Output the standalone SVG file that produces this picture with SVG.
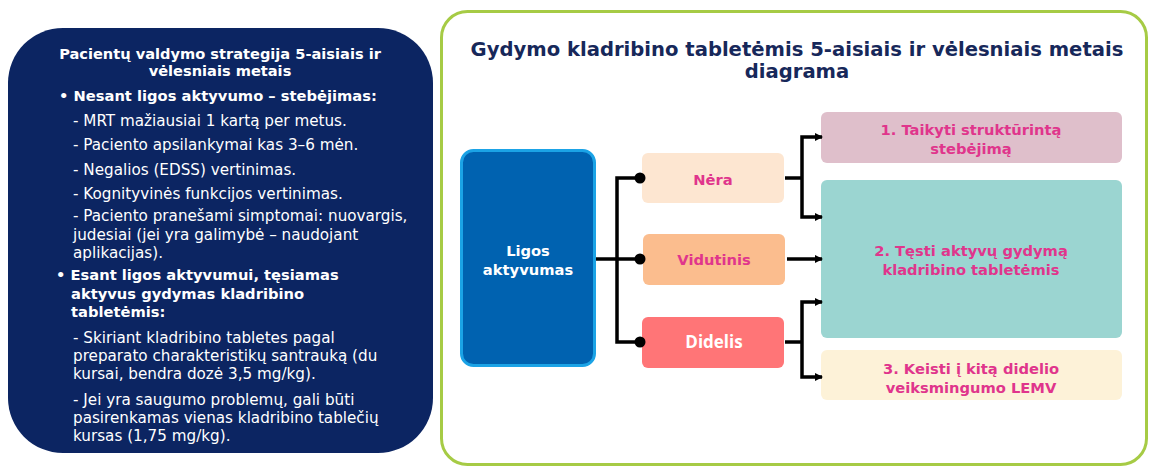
<svg xmlns="http://www.w3.org/2000/svg" width="1150" height="466" viewBox="0 0 1150 466">
<defs>
<style>
.lt{font-family:"DejaVu Sans",Verdana,sans-serif;fill:#ffffff;font-size:15.2px}
.lb{font-family:"DejaVu Sans",Verdana,sans-serif;fill:#ffffff;font-weight:bold;font-size:14.7px}
.lh{font-family:"DejaVu Sans",Verdana,sans-serif;fill:#ffffff;font-weight:bold;font-size:14.6px}
.nt{font-family:"DejaVu Sans",Verdana,sans-serif;font-weight:bold;font-size:14.7px;fill:#e0358c;text-anchor:middle}
.ttl{font-family:"DejaVu Sans",Verdana,sans-serif;font-weight:bold;font-size:19.6px;fill:#17285a;text-anchor:middle}
.cn{fill:none;stroke:#000;stroke-width:3.5}
</style>
<marker id="ah" markerWidth="8" markerHeight="8" refX="7" refY="4" orient="auto" markerUnits="userSpaceOnUse" viewBox="0 0 8 8">
<path d="M0,0 L8,4 L0,8 z" fill="#000"/>
</marker>
</defs>
<rect x="0" y="0" width="1150" height="466" fill="#ffffff"/>

<g id="left-panel">
<rect x="8" y="28" width="425" height="425" rx="55" fill="#0c2562"/>
<text class="lh" text-anchor="middle" x="220" y="59">Pacientų valdymo strategija 5-aisiais ir</text>
<text class="lh" text-anchor="middle" x="220" y="76">vėlesniais metais</text>
<text class="lb" x="59" y="101">• Nesant ligos aktyvumo – stebėjimas:</text>
<text class="lt" x="73" y="126">- MRT mažiausiai 1 kartą per metus.</text>
<text class="lt" x="73" y="150">- Paciento apsilankymai kas 3–6 mėn.</text>
<text class="lt" x="73" y="175">- Negalios (EDSS) vertinimas.</text>
<text class="lt" x="73" y="199">- Kognityvinės funkcijos vertinimas.</text>
<text class="lt" x="73" y="221">- Paciento pranešami simptomai: nuovargis,</text>
<text class="lt" x="73" y="240">judesiai (jei yra galimybė – naudojant</text>
<text class="lt" x="73" y="258">aplikacijas).</text>
<text class="lb" x="56" y="280">• Esant ligos aktyvumui, tęsiamas</text>
<text class="lb" x="71" y="299">aktyvus gydymas kladribino</text>
<text class="lb" x="71" y="317">tabletėmis:</text>
<text class="lt" x="73" y="343">- Skiriant kladribino tabletes pagal</text>
<text class="lt" x="73" y="361">preparato charakteristikų santrauką (du</text>
<text class="lt" x="73" y="379">kursai, bendra dozė 3,5 mg/kg).</text>
<text class="lt" x="73" y="405">- Jei yra saugumo problemų, gali būti</text>
<text class="lt" x="73" y="423">pasirenkamas vienas kladribino tablečių</text>
<text class="lt" x="73" y="441">kursas (1,75 mg/kg).</text>
</g>

<g id="right-panel">
<rect x="441.5" y="11.5" width="705" height="453" rx="26" fill="#ffffff" stroke="#a6cb45" stroke-width="3"/>
<text class="ttl" x="797" y="56">Gydymo kladribino tabletėmis 5-aisiais ir vėlesniais metais</text>
<text class="ttl" x="797" y="78">diagrama</text>
</g>

<g id="node-ligos">
<rect x="461.5" y="150.5" width="133" height="215" rx="12" fill="#0062b0" stroke="#1ba3e6" stroke-width="3"/>
<text class="nt" x="528" y="256" style="fill:#ffffff">Ligos</text>
<text class="nt" x="528" y="275" style="fill:#ffffff">aktyvumas</text>
</g>

<g id="node-nera">
<rect x="642" y="153" width="142" height="50" rx="6" fill="#fde6d1"/>
<text class="nt" x="713" y="185">Nėra</text>
</g>
<g id="node-vidutinis">
<rect x="643" y="234" width="142" height="51" rx="6" fill="#fbbd8e"/>
<text class="nt" x="714" y="265">Vidutinis</text>
</g>
<g id="node-didelis">
<rect x="642" y="317" width="142" height="51" rx="6" fill="#ff7577"/>
<text x="714" y="348" text-anchor="middle" style="font-family:'Open Sans','Liberation Sans',sans-serif;font-weight:bold;font-size:17px;fill:#ffffff">Didelis</text>
</g>

<g id="node-out1">
<rect x="821" y="112" width="301" height="51" rx="6" fill="#dfbfcb"/>
<text class="nt" x="971" y="135">1. Taikyti struktūrintą</text>
<text class="nt" x="971" y="154">stebėjimą</text>
</g>
<g id="node-out2">
<rect x="821" y="180" width="301" height="158" rx="6" fill="#9bd5d1"/>
<text class="nt" x="971" y="256">2. Tęsti aktyvų gydymą</text>
<text class="nt" x="971" y="275">kladribino tabletėmis</text>
</g>
<g id="node-out3">
<rect x="821" y="350" width="301" height="50" rx="6" fill="#fdf2d8"/>
<text class="nt" x="971" y="374">3. Keisti į kitą didelio</text>
<text class="nt" x="971" y="393">veiksmingumo LEMV</text>
</g>

<g id="connectors">
<path class="cn" d="M596,259 H617"/>
<path class="cn" d="M640,178 H617 V342 H640"/>
<path class="cn" d="M617,259 H640"/>
<circle cx="640" cy="178" r="5.5" fill="#000"/>
<circle cx="640" cy="259" r="5.5" fill="#000"/>
<circle cx="640" cy="342" r="5.5" fill="#000"/>
<path class="cn" d="M785,178 H802"/>
<path class="cn" d="M802,178 V137 H822" marker-end="url(#ah)"/>
<path class="cn" d="M802,178 V217 H822" marker-end="url(#ah)"/>
<path class="cn" d="M787,259 H822" marker-end="url(#ah)"/>
<path class="cn" d="M785,342 H802"/>
<path class="cn" d="M802,342 V302 H822" marker-end="url(#ah)"/>
<path class="cn" d="M802,342 V377 H822" marker-end="url(#ah)"/>
</g>
</svg>
